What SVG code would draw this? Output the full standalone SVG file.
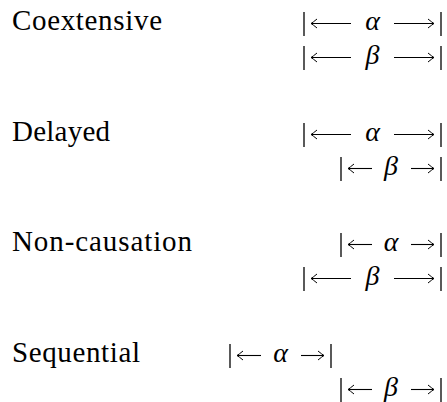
<svg xmlns="http://www.w3.org/2000/svg" width="447" height="402" viewBox="0 0 447 402">
<style>
text{font-family:'Liberation Serif','DejaVu Serif',serif;fill:#000}
.lbl{font-size:29px}
.gr{font-style:italic;font-size:28px;text-anchor:middle}
.bar{stroke:#000;stroke-width:1.3;fill:none}
.arr{stroke:#000;stroke-width:1.1;fill:none;marker-end:url(#hd)}
</style>
<defs>
<marker id="hd" markerUnits="userSpaceOnUse" markerWidth="12" markerHeight="12" viewBox="-8 -6 10 12" refX="0" refY="0" orient="auto" overflow="visible">
<path d="M-6,-4.5 Q-2,-1.2 0,0 Q-2,1.2 -6,4.5" fill="none" stroke="#000" stroke-width="1"/>
</marker>
</defs>
<rect width="447" height="402" fill="#fff"/>
<g id="coextensive">
<text class="lbl" x="12" y="30" textLength="150" font-family="Liberation Serif, serif">Coextensive</text>
</g>
<g id="delayed">
<text class="lbl" x="12" y="141" textLength="98" font-family="Liberation Serif, serif">Delayed</text>
</g>
<g id="non-causation">
<text class="lbl" x="12" y="251" textLength="180" font-family="Liberation Serif, serif">Non-causation</text>
</g>
<g id="sequential">
<text class="lbl" x="12" y="362" textLength="128" font-family="Liberation Serif, serif">Sequential</text>
</g>
<g id="intervals">
<g id="coext-alpha">
<line class="bar" x1="304" y1="12" x2="304" y2="36"/><line class="bar" x1="441" y1="12" x2="441" y2="36"/>
<line class="arr" x1="351" y1="23.5" x2="311" y2="23.5"/><line class="arr" x1="394" y1="23.5" x2="434" y2="23.5"/>
<text class="gr" x="372.5" y="30">α</text>
</g>
<g id="coext-beta">
<line class="bar" x1="304" y1="46" x2="304" y2="70"/><line class="bar" x1="441" y1="46" x2="441" y2="70"/>
<line class="arr" x1="351" y1="57.5" x2="311" y2="57.5"/><line class="arr" x1="394" y1="57.5" x2="434" y2="57.5"/>
<text class="gr" x="372.5" y="64">β</text>
</g>
<g id="delayed-alpha">
<line class="bar" x1="304" y1="123" x2="304" y2="147"/><line class="bar" x1="441" y1="123" x2="441" y2="147"/>
<line class="arr" x1="351" y1="134.5" x2="311" y2="134.5"/><line class="arr" x1="394" y1="134.5" x2="434" y2="134.5"/>
<text class="gr" x="372.5" y="141">α</text>
</g>
<g id="delayed-beta">
<line class="bar" x1="341" y1="157" x2="341" y2="181"/><line class="bar" x1="441" y1="157" x2="441" y2="181"/>
<line class="arr" x1="372" y1="168.5" x2="348" y2="168.5"/><line class="arr" x1="411" y1="168.5" x2="434" y2="168.5"/>
<text class="gr" x="391" y="175">β</text>
</g>
<g id="noncaus-alpha">
<line class="bar" x1="341" y1="233" x2="341" y2="257"/><line class="bar" x1="441" y1="233" x2="441" y2="257"/>
<line class="arr" x1="372" y1="244.5" x2="348" y2="244.5"/><line class="arr" x1="411" y1="244.5" x2="434" y2="244.5"/>
<text class="gr" x="391" y="251">α</text>
</g>
<g id="noncaus-beta">
<line class="bar" x1="304" y1="267" x2="304" y2="291"/><line class="bar" x1="441" y1="267" x2="441" y2="291"/>
<line class="arr" x1="351" y1="278.5" x2="311" y2="278.5"/><line class="arr" x1="394" y1="278.5" x2="434" y2="278.5"/>
<text class="gr" x="372.5" y="285">β</text>
</g>
<g id="seq-alpha">
<line class="bar" x1="230" y1="344" x2="230" y2="368"/><line class="bar" x1="331" y1="344" x2="331" y2="368"/>
<line class="arr" x1="261" y1="355.5" x2="237" y2="355.5"/><line class="arr" x1="301" y1="355.5" x2="324" y2="355.5"/>
<text class="gr" x="280.5" y="362">α</text>
</g>
<g id="seq-beta">
<line class="bar" x1="341" y1="378" x2="341" y2="402"/><line class="bar" x1="441" y1="378" x2="441" y2="402"/>
<line class="arr" x1="372" y1="389.5" x2="348" y2="389.5"/><line class="arr" x1="411" y1="389.5" x2="434" y2="389.5"/>
<text class="gr" x="391" y="396">β</text>
</g>
</g>
</svg>
